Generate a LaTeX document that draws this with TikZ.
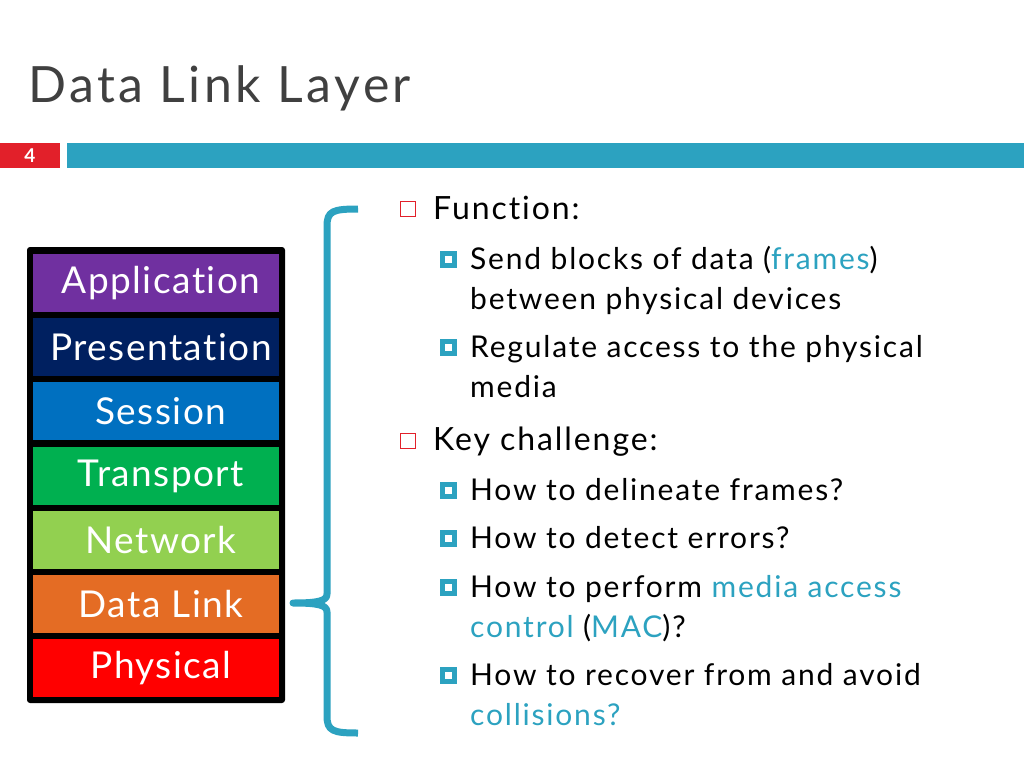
\documentclass[tikz,border=0pt]{standalone}
\usepackage{fontspec}
\setmainfont{Lato}[LetterSpace=6, Ligatures={NoCommon,NoRare,NoContextual}]
\newfontfamily\titlefont{Lato}[LetterSpace=7, Ligatures={NoCommon,NoRare,NoContextual}]
\newfontfamily\layerfont{Lato}[LetterSpace=4, Ligatures={NoCommon,NoRare,NoContextual}]
\usetikzlibrary{positioning}

\definecolor{barteal}{RGB}{44,162,192}
\definecolor{numred}{RGB}{226,32,42}
\definecolor{titlegray}{RGB}{64,64,64}
\definecolor{appcol}{RGB}{112,48,160}
\definecolor{prescol}{RGB}{0,32,96}
\definecolor{sesscol}{RGB}{0,112,192}
\definecolor{transcol}{RGB}{0,176,80}
\definecolor{netcol}{RGB}{146,208,80}
\definecolor{linkcol}{RGB}{228,108,36}
\definecolor{physcol}{RGB}{255,0,0}

\newcommand{\hl}[1]{\textcolor{barteal}{#1}}

\begin{document}
\begin{tikzpicture}[x=1pt, y=-1pt,
    layer/.style={minimum width=246pt, minimum height=58pt, inner sep=0pt,
      text=white, font=\layerfont\fontsize{37}{42}\selectfont,
      execute at begin node={\hspace*{10pt}}},
    mainbullet/.style={draw=numred, line width=1.4pt, fill=white, minimum size=15.5pt, inner sep=0pt},
    subbullet/.style={draw=barteal, line width=5pt, fill=white, minimum size=12pt, inner sep=0pt},
    maintext/.style={anchor=base west, inner sep=0pt, font=\fontsize{32}{36}\selectfont},
    subtext/.style={anchor=base west, inner sep=0pt, font=\fontsize{30}{34}\selectfont}]
  \useasboundingbox (0,0) rectangle (1024,768);

  % Titulo
  \node[anchor=base west, inner sep=0pt, text=titlegray, font=\titlefont\fontsize{50}{60}\selectfont] (title) at (28,102) {Data Link Layer};
  \node[fill=numred, text=white, minimum width=60pt, minimum height=25pt, inner sep=0pt,
    font=\fontsize{19}{20}\selectfont\bfseries] (num) at (30,155.5) {4};
  \node[fill=barteal, minimum width=957pt, minimum height=25pt, inner sep=0pt, right=7pt of num] (bar) {};

  % Capas
  \node[fill=black, rounded corners=3pt, minimum width=258pt, minimum height=456pt] (stack) at (156,475) {};
  \node[layer, fill=appcol] (app) at (156,283) {Application};
  \node[layer, fill=prescol] (pres) at (156,347) {Presentation};
  \node[layer, fill=sesscol] (sess) at (156,411) {Session};
  \node[layer, fill=transcol] (trans) at (156,476) {Transport};
  \node[layer, fill=netcol] (net) at (156,540) {Network};
  \node[layer, fill=linkcol] (link) at (156,604) {Data Link};
  \node[layer, fill=physcol] (phys) at (156,668) {Physical};

  % Llave
  \coordinate (top) at (358,209);
  \coordinate (tip) at (293,603);
  \coordinate (bot) at (358,733);
  \draw[barteal, line width=7pt, line join=round]
    (top) .. controls (333,209) and (327,211) .. (327,226) -- (327,594)
    .. controls (327,601) and (318,603) .. (tip)
    .. controls (318,603) and (327,605) .. (327,612) -- (327,716)
    .. controls (327,731) and (333,733) .. (bot);

  % Texto
  \node[mainbullet] (m1) at (408,209) {};
  \node[maintext] (fn) at (433,219) {Function:};
  \node[subbullet] (s1) at (448.5,259) {};
  \node[subtext] (t1) at (470,269) {Send blocks of data (\hl{frames})};
  \node[subtext] (t1b) at (470,309) {between physical devices};
  \node[subbullet] (s2) at (448.5,347) {};
  \node[subtext] (t2) at (470,357) {Regulate access to the physical};
  \node[subtext] (t2b) at (470,397) {media};

  \node[mainbullet] (m2) at (408,441) {};
  \node[maintext] (kc) at (433,450) {Key challenge:};
  \node[subbullet] (s3) at (448.5,490) {};
  \node[subtext] (t3) at (470,500) {How to delineate frames?};
  \node[subbullet] (s4) at (448.5,538) {};
  \node[subtext] (t4) at (470,548) {How to detect errors?};
  \node[subbullet] (s5) at (448.5,587) {};
  \node[subtext] (t5) at (470,597) {How to perform \hl{media access}};
  \node[subtext] (t5b) at (470,637) {\hl{control} (\hl{MAC})?};
  \node[subbullet] (s6) at (448.5,675) {};
  \node[subtext] (t6) at (470,685) {How to recover from and avoid};
  \node[subtext] (t6b) at (470,725) {\hl{collisions?}};
\end{tikzpicture}
\end{document}
